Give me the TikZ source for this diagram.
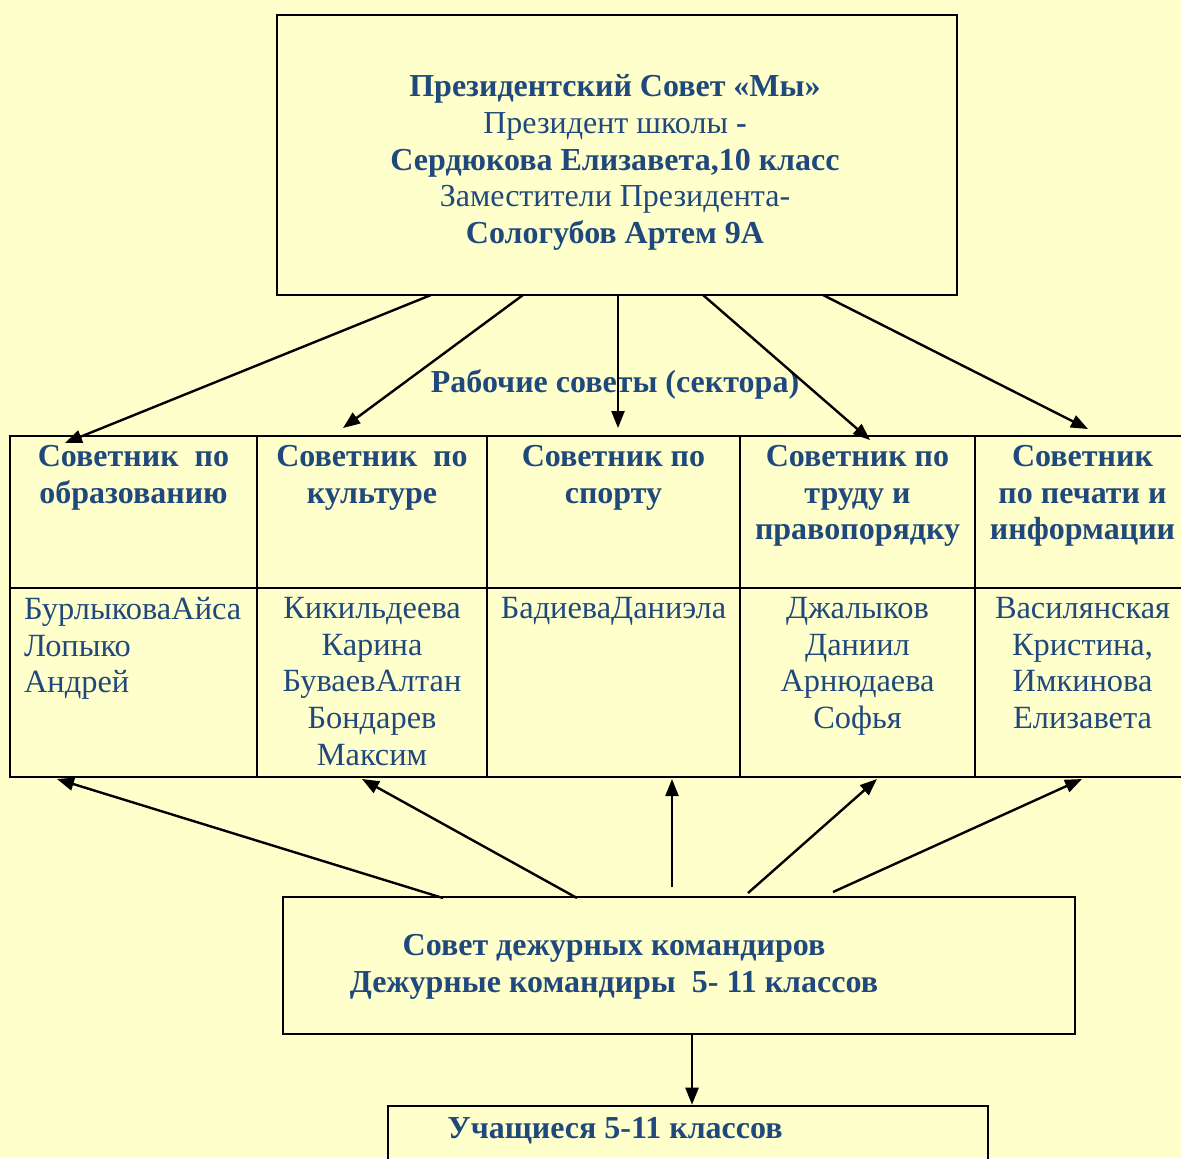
\documentclass[tikz,border=0pt]{standalone}
\usepackage{fontspec}
\setmainfont{Liberation Serif}
\usepackage{tikz}
\usetikzlibrary{positioning}
\usetikzlibrary{calc}
\usetikzlibrary{arrows.meta}
\definecolor{ink}{RGB}{31,73,125}
\definecolor{paper}{RGB}{255,255,204}
\tikzset{frame/.style={draw, line width=1.3pt, inner sep=0pt}}
\tikzset{bold/.style={text=ink, inner sep=0pt, align=center, font=\bfseries\fontsize{16}{18.4}\selectfont}}
\tikzset{plain/.style={text=ink, inner sep=0pt, align=center, font=\fontsize{16.2}{18.4}\selectfont}}
\tikzset{arrow/.style={-{Triangle[length=8.5pt,width=6.5pt]}, line width=1.2pt}}

\begin{document}
\begin{tikzpicture}[x=0.5pt,y=-0.5pt]
  \fill[paper] (0,0) rectangle (1181,1158);
  \useasboundingbox (0,0) rectangle (1181,1158);
  \clip (0,0) rectangle (1181,1158);

  % president's council
  \node[frame, minimum width=340pt, minimum height=140pt] (pres) at (617,155) {};
  \node[bold, anchor=north] (prestext) at (615,74) {Президентский Совет «Мы»\\
    {\mdseries Президент школы} -\\
    Сердюкова Елизавета,10 класс\\
    {\mdseries Заместители Президента-}\\
    Сологубов Артем 9А};
  \node[bold, anchor=base] (sectors) at (615,392) {Рабочие советы (сектора)};

  % table of sectors
  \foreach \i/\xa/\xb in {1/10/257, 2/257/487, 3/487/740, 4/740/975, 5/975/1190} {
    \pgfmathsetmacro\w{(\xb-\xa)/2}
    \node[frame, minimum width=\w pt, minimum height=76pt] (h\i) at ({(\xa+\xb)/2},512) {};
    \node[frame, minimum width=\w pt, minimum height=94.5pt] (n\i) at ({(\xa+\xb)/2},682.5) {};
  }
  \foreach \i/\txt in {
    1/{Советник\ \ по\\образованию},
    2/{Советник\ \ по\\культуре},
    3/{Советник по\\спорту},
    4/{Советник по\\труду и\\правопорядку},
    5/{Советник\\по печати и\\информации}%
  } {
    \node[bold, anchor=north, below=5pt of h\i.north] (ht\i) {\txt};
  }
  \node[plain, align=left, anchor=north west, below right=5pt and 7.5pt of n1.north west] (nt1)
    {БурлыковаАйса\\Лопыко\\Андрей};
  \foreach \i/\txt in {
    2/{Кикильдеева\\Карина\\БуваевАлтан\\Бондарев\\Максим},
    3/{БадиеваДаниэла},
    4/{Джалыков\\Даниил\\Арнюдаева\\Софья},
    5/{Василянская\\Кристина,\\Имкинова\\Елизавета}%
  } {
    \node[plain, anchor=north, below=5pt of n\i.north] (nt\i) {\txt};
  }

  % duty commanders and pupils
  \node[frame, minimum width=396pt, minimum height=68.5pt] (duty) at (679,965.5) {};
  \node[bold, anchor=north] (dutytext) at (614,934)
    {Совет дежурных командиров\\Дежурные командиры\ \ 5- 11 классов};
  \node[frame, minimum width=300pt, minimum height=60pt] (pupils) at (688,1166) {};
  \node[bold, anchor=base] (pupilstext) at (615,1138) {Учащиеся 5-11 классов};

  % arrows
  \foreach \i/\xa/\xb/\yb in {1/431/65/443, 2/523/343/428, 3/618/618/428, 4/703/870/440, 5/823/1088/429} {
    \coordinate (up\i) at (\xa,295);
    \coordinate (dn\i) at (\xb,\yb);
    \draw[arrow] (up\i) -- (dn\i);
  }
  \foreach \i/\xa/\ya/\xb in {1/443/898/57, 2/577/898/362, 3/672/887/672, 4/748/893/877, 5/833/892/1082} {
    \coordinate (lo\i) at (\xa,\ya);
    \coordinate (hi\i) at (\xb,779);
    \draw[arrow] (lo\i) -- (hi\i);
  }
  \draw[arrow] ([xshift=6.5pt]duty.south) -- ([xshift=2pt]pupils.north);
\end{tikzpicture}
\end{document}
